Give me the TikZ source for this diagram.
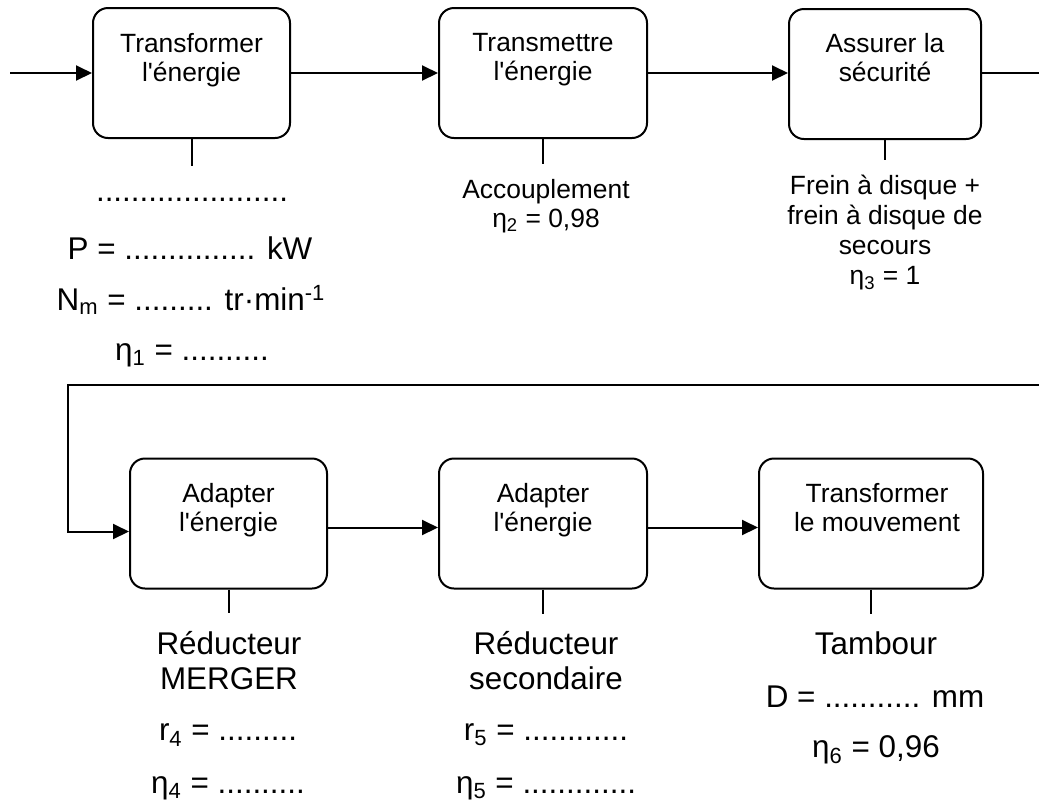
\documentclass[tikz,border=0pt]{standalone}
\usepackage{fontspec}
\setmainfont{Liberation Sans}
\usetikzlibrary{arrows.meta,positioning}

\begin{document}
\begin{tikzpicture}
	[x=0.5pt,y=-0.5pt,line width=1pt,
	fct/.style={draw,rounded corners=7.5pt,minimum height=65pt,inner sep=0pt},
	fcttxt/.style={align=center,inner sep=0pt,font=\fontsize{13.2}{14.5}\selectfont},
	grand/.style={align=center,inner sep=0pt,font=\fontsize{15.7}{17.5}\selectfont},
	fleche/.style={-{Triangle[length=8pt,width=7.5pt]}}]
	\useasboundingbox (0,0) rectangle (1039,805);
	
	\node[fct,minimum width=98.5pt] (b1) at (191.5,73) {};
	\node[fct,minimum width=104pt] (b2) at (543,73) {};
	\node[fct,minimum width=96pt] (b3) at (885,74) {};
	\node[fct,minimum width=98.5pt] (b4) at (228.5,523.5) {};
	\node[fct,minimum width=104pt] (b5) at (543,523.5) {};
	\node[fct,minimum width=112pt] (b6) at (871,523.5) {};
	
	\node[fcttxt,below=12.5pt of b1.north] {Transformer\\l\textquotesingle énergie};
	\node[fcttxt,below=12.5pt of b2.north] {Transmettre\\l\textquotesingle énergie};
	\node[fcttxt,below=12pt of b3.north] {Assurer la\\sécurité};
	\node[fcttxt,below=12.5pt of b4.north] {Adapter\\l\textquotesingle énergie};
	\node[fcttxt,below=12.5pt of b5.north] {Adapter\\l\textquotesingle énergie};
	\node[fcttxt,below=12.5pt of b6.north,xshift=3pt] {Transformer\\le mouvement};
	
	\coordinate[below=13.5pt of b1.south] (t1);
	\coordinate[below=12.5pt of b2.south] (t2);
	\coordinate[below=10pt of b3.south] (t3);
	\coordinate[below=11.5pt of b4.south] (t4);
	\coordinate[below=12pt of b5.south] (t5);
	\coordinate[below=12pt of b6.south] (t6);
	\path
	\foreach \boxNode/\stubEnd in {b1/t1,b2/t2,b3/t3,b4/t4,b5/t5,b6/t6}
	{
		(\boxNode.south) edge (\stubEnd)
	};
	
	\node[grand] (m0) at (192,200) {......................};
	\node[grand] (m1) at (190,248) {P = ............... kW};
	\node[grand] (m2) at (191,300) {N\textsubscript{m} = ......... tr·min\textsuperscript{-1}};
	\node[grand] (m3) at (192,355) {η\textsubscript{1} = ..........};
	
	\node[fcttxt] (acc) at (546,206) {Accouplement\\η\textsubscript{2} = 0,98};
	\node[fcttxt,font=\fontsize{13.2}{15}\selectfont] (frein) at (885,233)
		{Frein à disque +\\frein à disque de\\secours\\η\textsubscript{3} = 1};
	
	\node[grand] (red1) at (229,661) {Réducteur\\MERGER};
	\node[grand] (r4) at (228,735) {r\textsubscript{4} = .........};
	\node[grand] (e4) at (228,788) {η\textsubscript{4} = ..........};
	\node[grand] (red2) at (546,661) {Réducteur\\secondaire};
	\node[grand] (r5) at (546,735) {r\textsubscript{5} = ............};
	\node[grand] (e5) at (546,788) {η\textsubscript{5} = .............};
	\node[grand] (tamb) at (876,643) {Tambour};
	\node[grand] (diam) at (875,697) {D = ........... mm};
	\node[grand] (e6) at (876,750) {η\textsubscript{6} = 0,96};
	
	\coordinate (entree) at (10,73);
	\coordinate (sortie) at (1039,73);
	\coordinate (retD) at (1039,385);
	\coordinate (retG) at (68,385);
	\draw[fleche] (entree) -- (b1.west);
	\draw[fleche] (b1.east) -- (b2.west);
	\draw[fleche] (b2.east) -- (b2.east -| b3.west);
	\draw (b3.east |- b2.east) -- (sortie);
	\draw[fleche] (retD) -- (retG) |- ([yshift=-4pt]b4.west);
	\draw[fleche] ([yshift=-2pt]b4.east) -- ([yshift=-2pt]b5.west);
	\draw[fleche] ([yshift=-2pt]b5.east) -- ([yshift=-2pt]b6.west);
\end{tikzpicture}
\end{document}
